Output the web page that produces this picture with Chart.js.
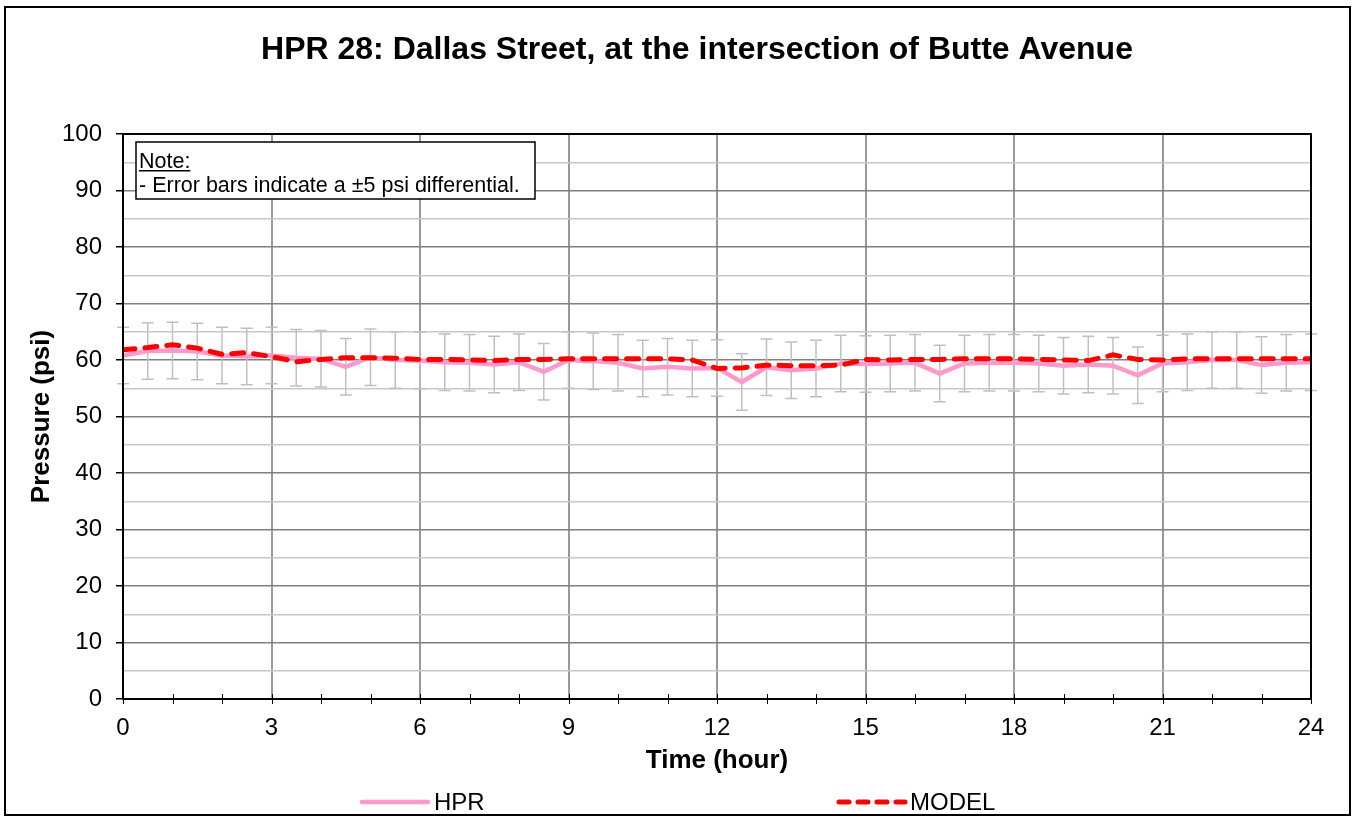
<!DOCTYPE html>
<html>
<head>
<meta charset="utf-8">
<script src="https://cdn.jsdelivr.net/npm/chart.js@4.4.1/dist/chart.umd.min.js"></script>
<style>
  html, body { margin: 0; padding: 0; background: #fff; }
  #wrap { width: 1352px; height: 817px; position: relative; }
</style>
</head>
<body>
<div id="wrap"><canvas id="chart" width="1352" height="817"></canvas></div>
<script>
// chart values
var chartTitle = 'HPR 28: Dallas Street, at the intersection of Butte Avenue';
var hours = [0, 0.5, 1, 1.5, 2, 2.5, 3, 3.5, 4, 4.5, 5, 5.5, 6, 6.5, 7, 7.5, 8, 8.5, 9, 9.5, 10, 10.5, 11, 11.5,
             12, 12.5, 13, 13.5, 14, 14.5, 15, 15.5, 16, 16.5, 17, 17.5, 18, 18.5, 19, 19.5, 20, 20.5, 21, 21.5,
             22, 22.5, 23, 23.5, 24];
var hprValues = [60.8, 61.6, 61.7, 61.5, 60.8, 60.6, 60.8, 60.4, 60.2, 58.8, 60.5, 60.0, 59.9, 59.6, 59.5, 59.2,
                 59.6, 57.9, 60.0, 59.8, 59.5, 58.5, 58.8, 58.5, 58.6, 56.1, 58.7, 58.2, 58.5, 59.4, 59.3, 59.4,
                 59.5, 57.6, 59.4, 59.5, 59.5, 59.4, 59.0, 59.2, 59.0, 57.3, 59.4, 59.6, 60.0, 60.0, 59.1, 59.5, 59.6];
var modelValues = [61.8, 62.2, 62.7, 62.1, 61.0, 61.3, 60.6, 59.7, 60.1, 60.4, 60.4, 60.3, 60.1, 60.1, 60.0, 59.9,
                   60.1, 60.1, 60.2, 60.2, 60.2, 60.2, 60.2, 60.0, 58.5, 58.6, 59.1, 59.0, 59.0, 59.1, 60.1, 60.0,
                   60.1, 60.1, 60.2, 60.2, 60.2, 60.1, 60.0, 59.9, 60.9, 60.1, 60.0, 60.2, 60.2, 60.2, 60.2, 60.2, 60.2];
var errorRange = 5;
var noteLines = ['Note:', '- Error bars indicate a \u00b15 psi differential.'];
var seriesNames = ['HPR', 'MODEL'];

function toPoints(ys) {
    var pts = [];
    for (var i = 0; i < hours.length; i++) pts.push({x: hours[i], y: ys[i]});
    return pts;
}

var FONT = 'Arial, "Liberation Sans", sans-serif';

// error bars under the HPR line
var errorBars = {
    id: 'errorBars',
    beforeDatasetsDraw: function(chart) {
        var ctx = chart.ctx, xs = chart.scales.x, ys = chart.scales.y;
        ctx.save();
        ctx.strokeStyle = '#c0c0c0';
        ctx.lineWidth = 1.5;
        for (var i = 0; i < hours.length; i++) {
            var px = xs.getPixelForValue(hours[i]);
            var top = ys.getPixelForValue(hprValues[i] + errorRange);
            var bot = ys.getPixelForValue(hprValues[i] - errorRange);
            ctx.beginPath();
            ctx.moveTo(px, top); ctx.lineTo(px, bot);
            ctx.moveTo(px - 6, top); ctx.lineTo(px + 6, top);
            ctx.moveTo(px - 6, bot); ctx.lineTo(px + 6, bot);
            ctx.stroke();
        }
        ctx.restore();
    }
};

// frame, title, note box, legend
var decor = {
    id: 'decor',
    beforeDraw: function(chart) {
        var ctx = chart.ctx;
        ctx.save();
        ctx.fillStyle = '#fff';
        ctx.fillRect(0, 0, chart.width, chart.height);
        ctx.strokeStyle = '#000';
        ctx.lineWidth = 2;
        ctx.strokeRect(5, 7, 1345, 808);
        ctx.fillStyle = '#000';
        ctx.font = 'bold 32px ' + FONT;
        ctx.textAlign = 'center';
        ctx.textBaseline = 'middle';
        ctx.fillText(chartTitle, 697, 50);
        ctx.restore();
    },
    afterDraw: function(chart) {
        var ctx = chart.ctx, a = chart.chartArea;
        ctx.save();
        // plot box
        ctx.strokeStyle = '#000';
        ctx.lineWidth = 2;
        ctx.strokeRect(a.left, a.top, a.right - a.left, a.bottom - a.top);
        // small x ticks crossing the axis
        ctx.lineWidth = 1;
        for (var h = 0; h <= 24; h++) {
            var px = Math.round(chart.scales.x.getPixelForValue(h)) + 0.5;
            ctx.beginPath();
            ctx.moveTo(px, a.bottom - 5); ctx.lineTo(px, a.bottom + 5);
            ctx.stroke();
        }
        // note box
        ctx.fillStyle = '#fff';
        ctx.fillRect(136, 142, 399, 57);
        ctx.lineWidth = 1.5;
        ctx.strokeRect(136, 142, 399, 57);
        ctx.fillStyle = '#000';
        ctx.font = '21.5px ' + FONT;
        ctx.textAlign = 'left';
        ctx.textBaseline = 'alphabetic';
        ctx.fillText(noteLines[0], 139, 168);
        var w = ctx.measureText(noteLines[0]).width;
        ctx.fillRect(139, 170, w, 1.5);
        ctx.fillText(noteLines[1], 139, 192);
        // legend
        var ly = 802;
        ctx.lineCap = 'round';
        ctx.lineWidth = 4.5;
        ctx.strokeStyle = '#ff99cc';
        ctx.beginPath(); ctx.moveTo(362, ly); ctx.lineTo(428, ly); ctx.stroke();
        ctx.strokeStyle = '#ff0000';
        ctx.lineWidth = 5;
        ctx.setLineDash([10, 9]);
        ctx.beginPath(); ctx.moveTo(839, ly); ctx.lineTo(905, ly); ctx.stroke();
        ctx.setLineDash([]);
        ctx.font = '24px ' + FONT;
        ctx.textBaseline = 'middle';
        ctx.fillText(seriesNames[0], 434, ly + 1);
        ctx.fillText(seriesNames[1], 910, ly + 1);
        ctx.restore();
    }
};

var ctx = document.getElementById('chart');
var myChart = new Chart(ctx, {
    type: 'line',
    data: {
        datasets: [{
            label: seriesNames[0],
            data: toPoints(hprValues),
            borderColor: '#ff99cc',
            borderWidth: 4.5,
            pointRadius: 0,
            tension: 0,
            order: 2
        }, {
            label: seriesNames[1],
            data: toPoints(modelValues),
            borderColor: '#ff0000',
            borderWidth: 5,
            borderDash: [12, 10],
            borderCapStyle: 'round',
            pointRadius: 0,
            tension: 0,
            order: 1
        }]
    },
    options: {
        responsive: false,
        animation: false,
        layout: {padding: {left: 0, top: 134, right: 41, bottom: 0}},
        plugins: {
            legend: {display: false},
            tooltip: {enabled: false}
        },
        scales: {
            x: {
                type: 'linear',
                min: 0, max: 24,
                ticks: {
                    stepSize: 1,
                    autoSkip: false,
                    maxRotation: 0,
                    color: '#000',
                    font: {size: 24, family: FONT},
                    padding: 15,
                    callback: function(v) { return v % 3 === 0 ? String(v) : ''; }
                },
                grid: {
                    color: function(c) { return c.tick && c.tick.value % 3 === 0 ? '#999999' : 'rgba(0,0,0,0)'; },
                    lineWidth: 2,
                    tickLength: 0,
                    drawTicks: false
                },
                border: {display: false},
                title: {
                    display: true,
                    text: 'Time (hour)',
                    color: '#000',
                    font: {size: 26, weight: 'bold', family: FONT},
                    padding: {top: 0, bottom: 41}
                },
                afterFit: function(s) { s.height = 118; }
            },
            y: {
                min: 0, max: 100,
                ticks: {
                    stepSize: 5,
                    autoSkip: false,
                    color: '#000',
                    font: {size: 24, family: FONT},
                    padding: 14,
                    callback: function(v) { return v % 10 === 0 ? String(v) : ''; }
                },
                grid: {
                    color: function(c) { return c.tick && c.tick.value % 10 === 0 ? '#808080' : '#c8c8c8'; },
                    lineWidth: 1.5,
                    tickLength: 7,
                    tickColor: function(c) { return c.tick && c.tick.value % 10 === 0 ? '#000' : 'rgba(0,0,0,0)'; }
                },
                border: {display: false},
                title: {
                    display: true,
                    text: 'Pressure (psi)',
                    color: '#000',
                    font: {size: 26, weight: 'bold', family: FONT},
                    padding: {top: 26, bottom: 0}
                },
                afterFit: function(s) { s.width = 123; }
            }
        }
    },
    plugins: [errorBars, decor]
});
</script>
</body>
</html>
